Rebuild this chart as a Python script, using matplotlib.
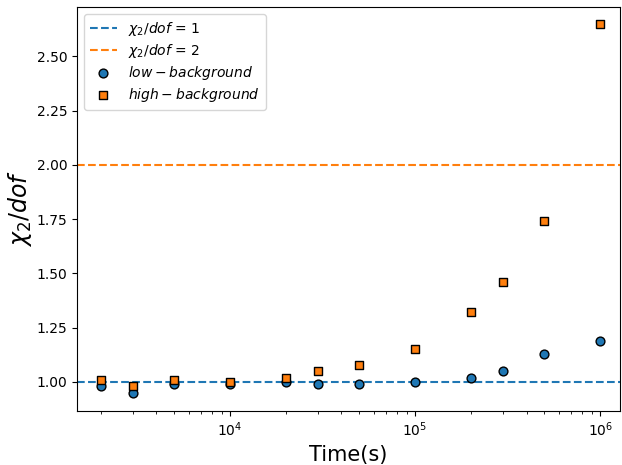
import matplotlib
matplotlib.use("Agg")
import matplotlib.pyplot as plt
import numpy as np

times = [2e3, 3e3, 5e3, 1e4, 2e4, 3e4, 5e4, 1e5, 2e5, 3e5, 5e5, 1e6]
low_bg = [0.98, 0.95, 0.99, 0.99, 1.00, 0.99, 0.99, 1.00, 1.02, 1.05, 1.13, 1.19]
high_bg = [1.01, 0.98, 1.01, 1.00, 1.02, 1.05, 1.08, 1.15, 1.32, 1.46, 1.74, 2.65]

fig = plt.figure(figsize=(6.22, 4.65), dpi=100)
ax = fig.add_axes([77/622, 1-411/465, (620-77)/622, (411-7)/465])
ax.axhline(1, color='#1f77b4', ls='--', label=r'$\chi_2/dof$ = 1')
ax.axhline(2, color='#ff7f0e', ls='--', label=r'$\chi_2/dof$ = 2')
ax.scatter(times, low_bg, marker='o', color='#1f77b4', edgecolors='k', s=40, zorder=3, label=r'$low-background$')
ax.scatter(times, high_bg, marker='s', color='#ff7f0e', edgecolors='k', s=40, zorder=3, label=r'$high-background$')
ax.set_xscale('log')
ax.set_xlim(1490, 1.28e6)
ax.set_ylim(0.866, 2.728)
ax.set_yticks([1.0, 1.25, 1.5, 1.75, 2.0, 2.25, 2.5])
ax.set_xlabel('Time(s)', fontsize=15)
ax.set_ylabel(r'$\chi_2/dof$', fontsize=17, labelpad=2)
ax.legend(loc='upper left', labelspacing=0.3, fontsize=10)
fig.savefig('out.png', dpi=100)
